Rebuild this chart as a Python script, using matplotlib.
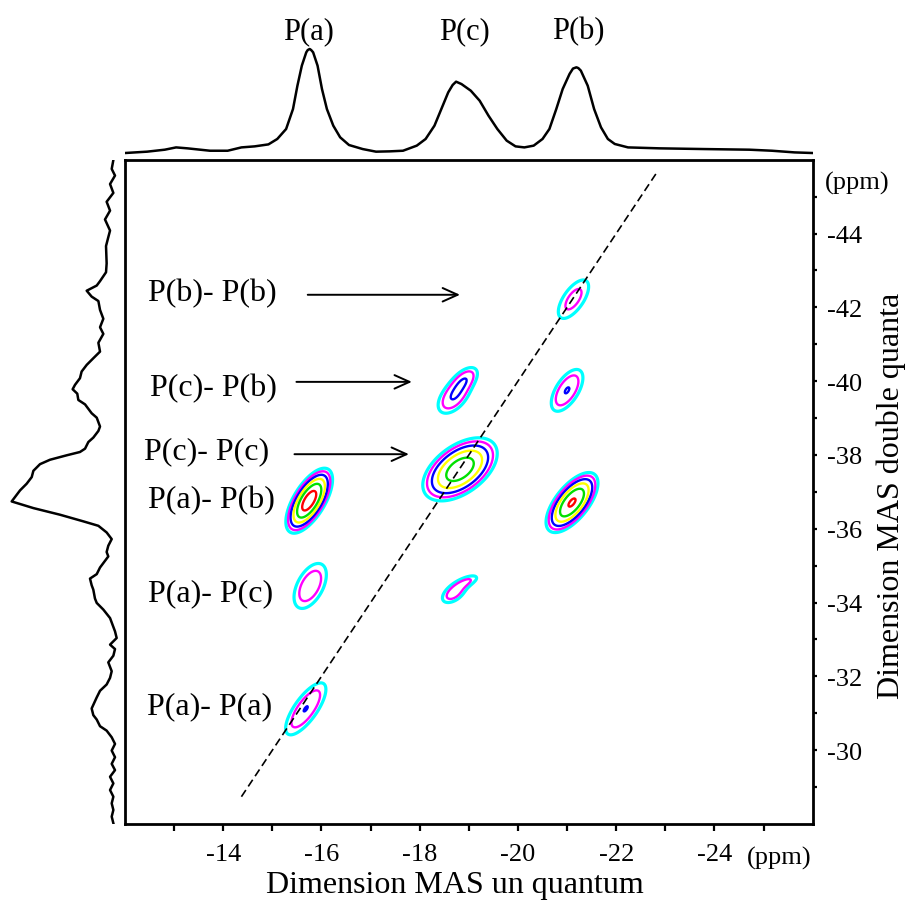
import numpy as np
import matplotlib
matplotlib.use("Agg")
import matplotlib.pyplot as plt
from matplotlib.ticker import FixedLocator

plt.rcParams['font.family'] = ['Liberation Serif', 'DejaVu Serif']
plt.rcParams['axes.unicode_minus'] = False

# ---------------- data ----------------
# 2D cross peaks (SQ ppm, DQ ppm, amplitude, widths, tilt)
peak_names = ['P(a)-P(b)', 'P(b)-P(a)', 'P(c)-P(c)', 'P(c)-P(b)', 'P(c)-P(b) tail',
              'P(b)-P(c)', 'P(b)-P(b)', 'P(a)-P(c)', 'P(c)-P(a)', 'P(c)-P(a) tail',
              'P(a)-P(a)']
peak_x = [-15.75, -21.10, -18.82, -18.69, -18.95, -21.00, -21.13, -15.77, -18.69, -19.00, -15.68]
peak_y = [-36.76, -36.71, -37.61, -39.57, -40.10, -39.75, -42.22, -34.45, -34.25, -34.60, -31.12]
peak_amp = [9.3, 7.9, 6.6, 2.2, 1.5, 2.29, 1.76, 2.1, 1.9, 1.25, 2.27]
peak_sx = [0.225, 0.26, 0.39, 0.25, 0.20, 0.25, 0.29, 0.27, 0.20, 0.20, 0.32]
peak_sy = [0.417, 0.40, 0.44, 0.35, 0.25, 0.44, 0.49, 0.50, 0.22, 0.15, 0.55]
peak_rho = [0.65, 0.65, 0.5, 0.5, 0.5, 0.6, 0.65, 0.5, 0.5, 0.6, 0.75]

contour_levels = [1.0, 1.5, 2.25, 3.4, 5.1, 7.6]
contour_colors = ['#00FFFF', '#FF00FF', '#0000FF', '#FFFF00', '#00E000', '#FF0000']

# diagonal (DQ = 2 x SQ)
diag_x = [-14.37, -22.85]
diag_y = [-28.74, -45.70]

# projection along the SQ dimension (top)
top_ppm = [-12.0, -12.45, -12.81, -13.04, -13.27, -13.73, -14.09, -14.37, -14.64, -14.92,
           -15.10, -15.28, -15.42, -15.51, -15.60, -15.69, -15.72, -15.76, -15.79, -15.83,
           -15.92, -16.01, -16.11, -16.24, -16.38, -16.56, -16.84, -17.11, -17.39, -17.66,
           -17.94, -18.12, -18.30, -18.44, -18.58, -18.67, -18.74, -18.85, -19.04, -19.22,
           -19.40, -19.58, -19.77, -19.95, -20.13, -20.32, -20.50, -20.64, -20.78, -20.91,
           -21.05, -21.12, -21.19, -21.23, -21.28, -21.42, -21.55, -21.69, -21.83, -21.97,
           -22.24, -22.88, -23.80, -24.71, -25.17, -25.63, -26.0]
top_int = [0, 1.3, 3.2, 5.4, 4.5, 2.2, 2.2, 5.4, 6.4, 8.3,
           13.5, 23.1, 42.3, 64.7, 84.0, 96.8, 99.0, 100, 99.0, 96.8,
           84.0, 61.5, 42.3, 26.3, 15.1, 7.7, 3.8, 1.3, 1.6, 2.2,
           7.1, 13.5, 26.3, 42.3, 58.3, 65.4, 68.6, 66.3, 59.9, 50.3,
           35.9, 23.1, 11.9, 6.4, 5.4, 7.1, 13.5, 23.1, 42.3, 61.5,
           76.0, 81.2, 82.4, 81.6, 79.2, 64.7, 42.3, 24.7, 13.5, 8.7,
           5.4, 4.5, 3.8, 3.2, 2.2, 0.6, 0]

# projection along the DQ dimension (left)
left_ppm = [-45.99, -45.75, -45.57, -45.34, -45.10, -44.86, -44.62, -44.38, -44.08, -43.90,
            -43.66, -43.19, -42.95, -42.71, -42.59, -42.45, -42.29, -42.17, -41.93, -41.69,
            -41.46, -41.28, -41.04, -40.80, -40.62, -40.44, -40.26, -40.08, -39.90, -39.78,
            -39.66, -39.49, -39.37, -39.25, -39.13, -39.01, -38.77, -38.65, -38.47, -38.35,
            -38.17, -38.08, -37.99, -37.87, -37.75, -37.57, -37.40, -37.22, -37.04, -36.74,
            -36.56, -36.38, -36.20, -36.08, -35.90, -35.72, -35.54, -35.37, -35.25, -35.13,
            -34.95, -34.77, -34.65, -34.47, -34.35, -34.11, -33.99, -33.81, -33.58, -33.22,
            -33.04, -32.86, -32.74, -32.56, -32.38, -32.14, -31.96, -31.78, -31.61, -31.43,
            -31.13, -30.95, -30.83, -30.65, -30.53, -30.35, -30.17, -29.99, -29.81, -29.63,
            -29.46, -29.28, -29.10, -28.92, -28.74, -28.56, -28.38, -28.20, -28.02]
left_int = [1.6, 3.2, 0, 4.8, 1.6, 8.1, 4.8, 9.7, 4.8, 6.5,
            8.7, 8.1, 8.7, 14.5, 17.7, 27.4, 22.6, 16.1, 14.5, 11.3,
            14.5, 11.3, 16.1, 14.5, 21.0, 27.4, 32.3, 33.9, 38.7, 41.0,
            36.5, 35.5, 29.0, 25.8, 22.6, 17.7, 14.5, 16.1, 21.0, 25.8,
            29.0, 33.9, 46.8, 62.9, 72.6, 79.0, 80.6, 85.5, 91.9, 100,
            79.0, 53.2, 30.6, 16.1, 8.1, 3.2, 6.5, 8.1, 6.5, 9.7,
            14.5, 17.7, 24.2, 22.6, 21.0, 19.4, 17.7, 11.3, 4.8, 0,
            -1.6, 4.8, 0, 1.6, 6.5, 3.2, 4.8, 8.1, 14.5, 17.7,
            22.6, 21.0, 17.7, 14.5, 8.1, 3.2, 0, 3.2, 0, 3.2,
            0, 4.8, 1.6, 4.8, 1.6, 3.2, 1.6, 3.2, 1.6]

# annotations
ann_text = ['P(b)- P(b)', 'P(c)- P(b)', 'P(c)- P(c)', 'P(a)- P(b)', 'P(a)- P(c)', 'P(a)- P(a)']
ann_x = [-12.475, -12.51, -12.39, -12.46, -12.47, -12.44]
ann_y = [-42.41, -39.83, -38.11, -36.79, -34.28, -31.20]
arrow_x0 = [-15.72, -15.49, -15.45]
arrow_x1 = [-18.82, -17.84, -17.78]
arrow_y = [-42.34, -39.98, -38.02]

site_labels = ['P(a)', 'P(c)', 'P(b)']
site_x = [-15.74, -18.92, -21.23]

x_major = [-14, -16, -18, -20, -22, -24]
x_minor = [-13, -15, -17, -19, -21, -23, -25]
y_major = [-44, -42, -40, -38, -36, -34, -32, -30]
y_minor = [-45, -43, -41, -39, -37, -35, -33, -31, -29]

# ---------------- figure ----------------
W, H = 908, 904
fig = plt.figure(figsize=(W / 100, H / 100), dpi=100)


def box(l, t, r, b):
    return [l / W, 1 - b / H, (r - l) / W, (b - t) / H]


ax = fig.add_axes(box(125, 160.7, 812.7, 825))
ax_top = fig.add_axes(box(125, 44.8, 812.7, 156.1))
ax_left = fig.add_axes(box(0, 160.7, 124, 825))

# 2D spectrum
gx = np.linspace(-12, -26, 801)
gy = np.linspace(-28, -46, 1001)
X, Y = np.meshgrid(gx, gy)
Z = np.zeros_like(X)
for x0, y0, a, sx, sy, r in zip(peak_x, peak_y, peak_amp, peak_sx, peak_sy, peak_rho):
    dx = (X - x0) / sx
    dy = (Y - y0) / sy
    q = (dx * dx - 2 * r * dx * dy + dy * dy) / (1 - r * r)
    Z += a * np.exp(-0.5 * q)

lws = [2.3, 1.7, 1.7, 1.7, 1.7, 1.7]
for lev, col, lw in zip(contour_levels, contour_colors, lws):
    ax.contour(X, Y, Z, levels=[lev], colors=[col], linewidths=lw)

ax.plot(diag_x, diag_y, color='black', lw=1.2, dashes=(4.8, 2.6))

for t, x, y in zip(ann_text, ann_x, ann_y):
    ax.text(x, y, t, fontsize=23, ha='left', va='center')
for x0, x1, y in zip(arrow_x0, arrow_x1, arrow_y):
    ax.annotate('', xy=(x1, y), xytext=(x0, y),
                arrowprops=dict(arrowstyle='->, head_length=0.4, head_width=0.18',
                                lw=1.4, color='black', mutation_scale=27,
                                shrinkA=0, shrinkB=0))

ax.set_xlim(-12, -26)
ax.set_ylim(-28, -46)
ax.xaxis.set_major_locator(FixedLocator(x_major))
ax.xaxis.set_minor_locator(FixedLocator(x_minor))
ax.yaxis.set_major_locator(FixedLocator(y_major))
ax.yaxis.set_minor_locator(FixedLocator(y_minor))
ax.yaxis.tick_right()
ax.tick_params(axis='x', which='both', direction='out', length=5, width=1.6,
               top=False, bottom=True, labelsize=19, pad=9)
ax.tick_params(axis='y', which='both', direction='out', length=3, width=1.6,
               left=False, right=True, labelleft=False, labelright=True,
               labelsize=19, pad=7)
ax.tick_params(which='minor', labelbottom=False, labelright=False)
for s in ax.spines.values():
    s.set_linewidth(2.0)

fig.text(747 / W, 1 - 858 / H, '(ppm)', fontsize=19, ha='left', va='center')
fig.text(825 / W, 1 - 183 / H, '(ppm)', fontsize=19, ha='left', va='center')
fig.text(455 / W, 1 - 886 / H, 'Dimension MAS un quantum', fontsize=23,
         ha='center', va='center')
fig.text(891 / W, 1 - 496 / H, 'Dimension MAS double quanta', fontsize=23,
         ha='center', va='center', rotation=90)

# top projection
ax_top.plot(top_ppm, top_int, color='black', lw=1.8)
ax_top.set_xlim(-12, -26)
ax_top.set_ylim(-2, 105)
ax_top.axis('off')
for t, x in zip(site_labels, site_x):
    ax_top.text(x, 117.6, t, fontsize=22, ha='center', va='center')

# left projection
ax_left.plot(left_int, left_ppm, color='black', lw=1.8)
ax_left.set_xlim(111.3, -8.7)
ax_left.set_ylim(-28, -46)
ax_left.axis('off')

fig.savefig('out.png', dpi=100)
